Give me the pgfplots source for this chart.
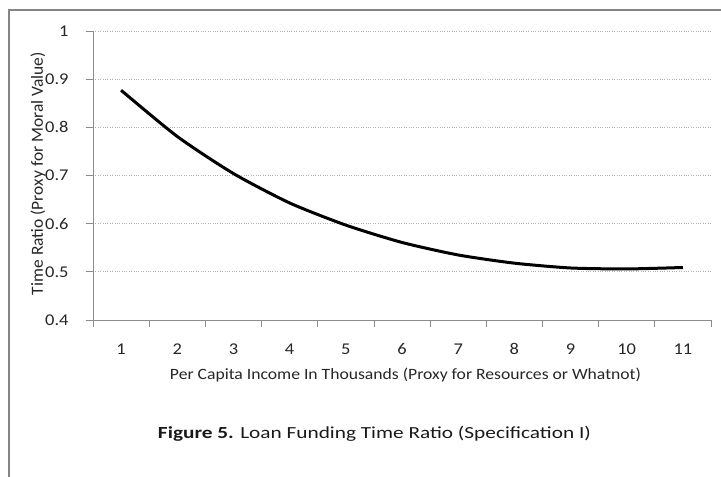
\documentclass[border=0pt]{standalone}
\usepackage{fontspec}
\setmainfont{Carlito}[FakeStretch=1.12]
\newfontfamily\plainfont{Carlito}
\usepackage{graphicx}
\usepackage{pgfplots}
\pgfplotsset{compat=1.18}

\begin{document}
\begin{tikzpicture}
\useasboundingbox (0,0) rectangle (721bp,477bp);
% chart frame (only left and top edges fall inside the picture)
\draw[line width=1.6bp, color=black!48] (9bp,-5bp) -- (9bp,467bp) -- (730bp,467bp);
\begin{axis}[
    at={(93bp,157bp)}, anchor=south west,
    scale only axis,
    width=618bp, height=289bp,
    xmin=0.5, xmax=11.5,
    ymin=0.4, ymax=1,
    xtick={0.5,1.5,...,11.5},
    xticklabels={},
    extra x ticks={1,...,11},
    extra x tick labels={1,2,3,4,5,6,7,8,9,10,11},
    extra x tick style={major tick length=0pt},
    ytick={0.4,0.5,...,1.0},
    axis x line*=bottom,
    axis y line*=left,
    axis line style={black!45, line width=0.8bp},
    tick style={black!45, line width=0.8bp},
    major tick length=7bp,
    tick align=outside,
    ymajorgrids,
    major grid style={black!30, dotted, line width=0.8bp},
    /pgf/number format/assume math mode=true,
    ticklabel style={font=\fontsize{16.5}{18}\selectfont, text=black!85},
    xticklabel style={yshift=-20bp},
    yticklabel style={xshift=-14bp},
]
\addplot[black, line width=3bp, smooth, tension=0.4] coordinates {
    (1,0.877) (2,0.781) (3,0.704) (4,0.643) (5,0.597) (6,0.561)
    (7,0.535) (8,0.518) (9,0.508) (10,0.506) (11,0.509)
};
\end{axis}
\node[text=black!85, rotate=90] at (38bp,303.5bp)
    {\resizebox{243bp}{1.1\height}{\plainfont\fontsize{15.5}{18}\selectfont Time Ratio (Proxy for Moral Value)}};
\node[text=black!85] at (405.5bp,102bp)
    {\resizebox{471bp}{\height}{\fontsize{15.8}{18}\selectfont Per Capita Income In Thousands (Proxy for Resources or Whatnot)}};
\node[text=black!90] at (374.5bp,43bp)
    {\resizebox{433bp}{\height}{\fontsize{17}{19}\selectfont\textbf{Figure 5.} Loan Funding Time Ratio (Specification I)}};
\end{tikzpicture}
\end{document}
